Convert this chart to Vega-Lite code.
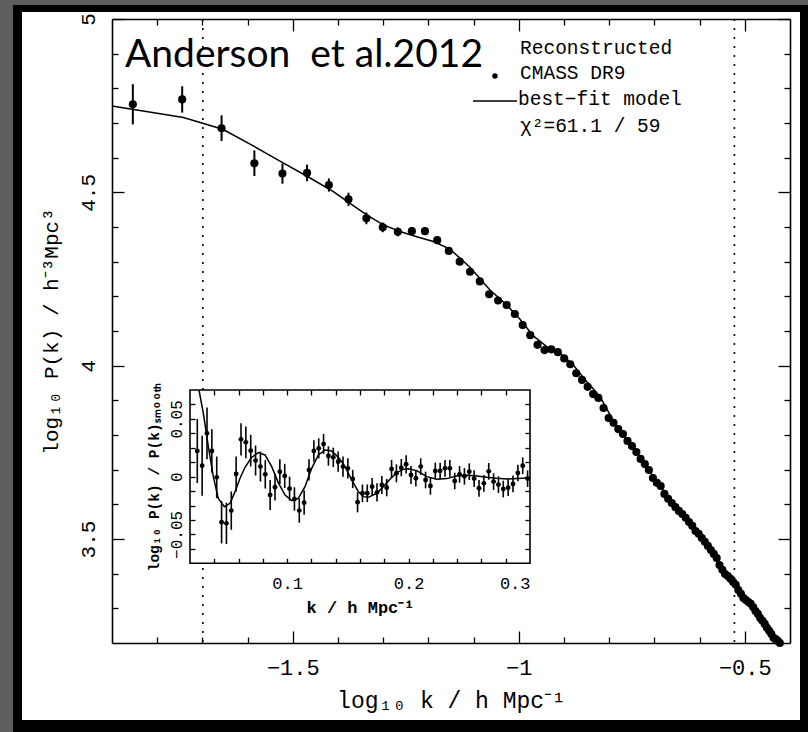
{
  "$schema": "https://vega.github.io/schema/vega-lite/v6.json",
  "width": 678,
  "height": 624,
  "autosize": {"type": "none"},
  "padding": {"left": 112, "top": 19, "right": 18, "bottom": 89},
  "background": "#5f5f5f",
  "datasets": {
    "one": [{"id": 1}],
    "vlines": [{"lk": -1.699}, {"lk": -0.523}],
    "main": [
      {"lk": -1.8539, "lp": 4.754}, {"lk": -1.7447, "lp": 4.768}, {"lk": -1.6576, "lp": 4.685}, {"lk": -1.585, "lp": 4.584},
      {"lk": -1.5229, "lp": 4.554}, {"lk": -1.4685, "lp": 4.556}, {"lk": -1.4202, "lp": 4.521}, {"lk": -1.3768, "lp": 4.48},
      {"lk": -1.3372, "lp": 4.425}, {"lk": -1.301, "lp": 4.399}, {"lk": -1.2676, "lp": 4.386}, {"lk": -1.2366, "lp": 4.388},
      {"lk": -1.2076, "lp": 4.388}, {"lk": -1.1805, "lp": 4.362}, {"lk": -1.1549, "lp": 4.331}, {"lk": -1.1308, "lp": 4.3},
      {"lk": -1.1079, "lp": 4.271}, {"lk": -1.0862, "lp": 4.243}, {"lk": -1.0655, "lp": 4.206}, {"lk": -1.0458, "lp": 4.188},
      {"lk": -1.0269, "lp": 4.175}, {"lk": -1.0088, "lp": 4.149}, {"lk": -0.9914, "lp": 4.117}, {"lk": -0.9747, "lp": 4.088},
      {"lk": -0.9586, "lp": 4.06}, {"lk": -0.9431, "lp": 4.045}, {"lk": -0.9281, "lp": 4.047}, {"lk": -0.9136, "lp": 4.039},
      {"lk": -0.8996, "lp": 4.021}, {"lk": -0.8861, "lp": 4.004}, {"lk": -0.8729, "lp": 3.978}, {"lk": -0.8601, "lp": 3.959},
      {"lk": -0.8477, "lp": 3.939}, {"lk": -0.8356, "lp": 3.918}, {"lk": -0.8239, "lp": 3.907}, {"lk": -0.8125, "lp": 3.878},
      {"lk": -0.8013, "lp": 3.849}, {"lk": -0.7905, "lp": 3.835}, {"lk": -0.7799, "lp": 3.817}, {"lk": -0.7696, "lp": 3.803},
      {"lk": -0.7595, "lp": 3.783}, {"lk": -0.7496, "lp": 3.768}, {"lk": -0.7399, "lp": 3.751}, {"lk": -0.7305, "lp": 3.731},
      {"lk": -0.7212, "lp": 3.716}, {"lk": -0.7122, "lp": 3.699}, {"lk": -0.7033, "lp": 3.676}, {"lk": -0.6946, "lp": 3.662},
      {"lk": -0.6861, "lp": 3.653}, {"lk": -0.6778, "lp": 3.63}, {"lk": -0.6696, "lp": 3.616}, {"lk": -0.6615, "lp": 3.604},
      {"lk": -0.6536, "lp": 3.592}, {"lk": -0.6459, "lp": 3.581}, {"lk": -0.6383, "lp": 3.572}, {"lk": -0.6308, "lp": 3.561},
      {"lk": -0.6234, "lp": 3.549}, {"lk": -0.6162, "lp": 3.538}, {"lk": -0.6091, "lp": 3.523}, {"lk": -0.6021, "lp": 3.515},
      {"lk": -0.5952, "lp": 3.503}, {"lk": -0.5884, "lp": 3.492}, {"lk": -0.5817, "lp": 3.48}, {"lk": -0.5751, "lp": 3.468},
      {"lk": -0.5686, "lp": 3.457}, {"lk": -0.5622, "lp": 3.445}, {"lk": -0.556, "lp": 3.425}, {"lk": -0.5498, "lp": 3.411},
      {"lk": -0.5436, "lp": 3.399}, {"lk": -0.5376, "lp": 3.393}, {"lk": -0.5317, "lp": 3.385}, {"lk": -0.5258, "lp": 3.376},
      {"lk": -0.52, "lp": 3.368}, {"lk": -0.5143, "lp": 3.353}, {"lk": -0.5086, "lp": 3.342}, {"lk": -0.5031, "lp": 3.33},
      {"lk": -0.4976, "lp": 3.324}, {"lk": -0.4921, "lp": 3.318}, {"lk": -0.4868, "lp": 3.313}, {"lk": -0.4815, "lp": 3.304},
      {"lk": -0.4763, "lp": 3.292}, {"lk": -0.4711, "lp": 3.284}, {"lk": -0.466, "lp": 3.272}, {"lk": -0.4609, "lp": 3.264},
      {"lk": -0.4559, "lp": 3.255}, {"lk": -0.451, "lp": 3.244}, {"lk": -0.4461, "lp": 3.235}, {"lk": -0.4413, "lp": 3.226},
      {"lk": -0.4365, "lp": 3.215}, {"lk": -0.4318, "lp": 3.211}, {"lk": -0.4271, "lp": 3.206}, {"lk": -0.4225, "lp": 3.2}
    ],
    "err": [
      {"lk": -1.8539, "lo": 4.696, "hi": 4.812}, {"lk": -1.7447, "lo": 4.73, "hi": 4.806}, {"lk": -1.6576, "lo": 4.648, "hi": 4.722},
      {"lk": -1.585, "lo": 4.547, "hi": 4.621}, {"lk": -1.5229, "lo": 4.525, "hi": 4.583}, {"lk": -1.4685, "lo": 4.532, "hi": 4.58},
      {"lk": -1.4202, "lo": 4.502, "hi": 4.54}, {"lk": -1.3768, "lo": 4.461, "hi": 4.499}, {"lk": -1.3372, "lo": 4.408, "hi": 4.442},
      {"lk": -1.301, "lo": 4.385, "hi": 4.413}, {"lk": -1.2676, "lo": 4.373, "hi": 4.399}, {"lk": -1.2366, "lo": 4.376, "hi": 4.4},
      {"lk": -1.2076, "lo": 4.377, "hi": 4.399}, {"lk": -1.1805, "lo": 4.352, "hi": 4.372}
    ],
    "model": [
      {"lk": -1.9, "lp": 4.749}, {"lk": -1.742, "lp": 4.716}, {"lk": -1.655, "lp": 4.682}, {"lk": -1.5874, "lp": 4.634},
      {"lk": -1.5206, "lp": 4.584}, {"lk": -1.4664, "lp": 4.545}, {"lk": -1.4102, "lp": 4.502}, {"lk": -1.3734, "lp": 4.468},
      {"lk": -1.3365, "lp": 4.435}, {"lk": -1.2996, "lp": 4.406}, {"lk": -1.2628, "lp": 4.387}, {"lk": -1.2259, "lp": 4.372},
      {"lk": -1.1889, "lp": 4.358}, {"lk": -1.1522, "lp": 4.336}, {"lk": -1.108, "lp": 4.284}, {"lk": -1.0637, "lp": 4.218},
      {"lk": -1.0268, "lp": 4.175}, {"lk": -0.9973, "lp": 4.134}, {"lk": -0.9679, "lp": 4.086}, {"lk": -0.9382, "lp": 4.055},
      {"lk": -0.9088, "lp": 4.036}, {"lk": -0.8794, "lp": 4.002}, {"lk": -0.8498, "lp": 3.954}, {"lk": -0.8204, "lp": 3.911},
      {"lk": -0.7872, "lp": 3.832}, {"lk": -0.7429, "lp": 3.755}, {"lk": -0.6987, "lp": 3.674}, {"lk": -0.6544, "lp": 3.594},
      {"lk": -0.6102, "lp": 3.524}, {"lk": -0.5659, "lp": 3.452}, {"lk": -0.5217, "lp": 3.372}, {"lk": -0.4774, "lp": 3.29},
      {"lk": -0.4332, "lp": 3.21}, {"lk": -0.42, "lp": 3.195}
    ],
    "inset": [
      {"k": 0.026, "v": 0.0222, "lo": -0.0055, "hi": 0.0499}, {"k": 0.030, "v": 0.0095, "lo": -0.0165, "hi": 0.0355},
      {"k": 0.034, "v": 0.0375, "lo": 0.0151, "hi": 0.0599}, {"k": 0.038, "v": 0.0222, "lo": 0.0034, "hi": 0.041},
      {"k": 0.042, "v": -0.0006, "lo": -0.0186, "hi": 0.0174}, {"k": 0.046, "v": -0.0395, "lo": -0.0578, "hi": -0.0212},
      {"k": 0.050, "v": -0.0404, "lo": -0.0583, "hi": -0.0225}, {"k": 0.054, "v": -0.0294, "lo": -0.046, "hi": -0.0128},
      {"k": 0.058, "v": 0.0023, "lo": -0.0129, "hi": 0.0175}, {"k": 0.062, "v": 0.0323, "lo": 0.0184, "hi": 0.0462},
      {"k": 0.066, "v": 0.0297, "lo": 0.016, "hi": 0.0434}, {"k": 0.070, "v": 0.0225, "lo": 0.0088, "hi": 0.0362},
      {"k": 0.074, "v": 0.0139, "lo": 0.0009, "hi": 0.0269}, {"k": 0.078, "v": 0.0087, "lo": -0.0043, "hi": 0.0217},
      {"k": 0.082, "v": 0.002, "lo": -0.0103, "hi": 0.0143}, {"k": 0.086, "v": -0.0159, "lo": -0.0289, "hi": -0.0029},
      {"k": 0.090, "v": -0.0092, "lo": -0.0207, "hi": 0.0023}, {"k": 0.094, "v": 0.0043, "lo": -0.0064, "hi": 0.015},
      {"k": 0.098, "v": 0.0006, "lo": -0.0099, "hi": 0.0111}, {"k": 0.102, "v": -0.0104, "lo": -0.0208, "hi": 0.0},
      {"k": 0.106, "v": -0.0193, "lo": -0.0294, "hi": -0.0092}, {"k": 0.110, "v": -0.0294, "lo": -0.0399, "hi": -0.0189},
      {"k": 0.114, "v": -0.0225, "lo": -0.033, "hi": -0.012}, {"k": 0.118, "v": 0.0058, "lo": -0.0034, "hi": 0.015},
      {"k": 0.122, "v": 0.0222, "lo": 0.0128, "hi": 0.0316}, {"k": 0.126, "v": 0.0245, "lo": 0.0158, "hi": 0.0332},
      {"k": 0.130, "v": 0.0283, "lo": 0.0196, "hi": 0.037}, {"k": 0.134, "v": 0.0179, "lo": 0.0095, "hi": 0.0263},
      {"k": 0.138, "v": 0.0167, "lo": 0.0083, "hi": 0.0251}, {"k": 0.142, "v": 0.013, "lo": 0.0043, "hi": 0.0217},
      {"k": 0.146, "v": 0.0087, "lo": 0.0, "hi": 0.0174}, {"k": 0.150, "v": 0.0072, "lo": -0.0015, "hi": 0.0159},
      {"k": 0.154, "v": -0.002, "lo": -0.0099, "hi": 0.0059}, {"k": 0.158, "v": -0.0222, "lo": -0.0309, "hi": -0.0135},
      {"k": 0.162, "v": -0.0144, "lo": -0.022, "hi": -0.0068}, {"k": 0.166, "v": -0.0144, "lo": -0.022, "hi": -0.0068},
      {"k": 0.170, "v": -0.0087, "lo": -0.0163, "hi": -0.0011}, {"k": 0.174, "v": -0.0136, "lo": -0.0215, "hi": -0.0057},
      {"k": 0.178, "v": -0.0072, "lo": -0.015, "hi": 0.0006}, {"k": 0.182, "v": -0.0095, "lo": -0.017, "hi": -0.002},
      {"k": 0.186, "v": 0.0066, "lo": -0.0013, "hi": 0.0145}, {"k": 0.190, "v": 0.0029, "lo": -0.0049, "hi": 0.0107},
      {"k": 0.194, "v": 0.0078, "lo": 0.0003, "hi": 0.0153}, {"k": 0.198, "v": 0.0107, "lo": 0.0028, "hi": 0.0186},
      {"k": 0.202, "v": 0.0014, "lo": -0.0064, "hi": 0.0092}, {"k": 0.206, "v": -0.0014, "lo": -0.0086, "hi": 0.0058},
      {"k": 0.210, "v": 0.0087, "lo": 0.0015, "hi": 0.0159}, {"k": 0.214, "v": -0.0029, "lo": -0.0101, "hi": 0.0043},
      {"k": 0.218, "v": -0.0081, "lo": -0.0156, "hi": -0.0006}, {"k": 0.222, "v": 0.0049, "lo": -0.0023, "hi": 0.0121},
      {"k": 0.226, "v": 0.0049, "lo": -0.0023, "hi": 0.0121}, {"k": 0.230, "v": 0.0072, "lo": 0.0, "hi": 0.0144},
      {"k": 0.234, "v": 0.0072, "lo": 0.0, "hi": 0.0144}, {"k": 0.238, "v": -0.0038, "lo": -0.011, "hi": 0.0034},
      {"k": 0.242, "v": 0.002, "lo": -0.0052, "hi": 0.0092}, {"k": 0.246, "v": 0.0003, "lo": -0.0069, "hi": 0.0075},
      {"k": 0.250, "v": 0.0043, "lo": -0.0029, "hi": 0.0115}, {"k": 0.254, "v": -0.0017, "lo": -0.0089, "hi": 0.0055},
      {"k": 0.258, "v": -0.0101, "lo": -0.0173, "hi": -0.0029}, {"k": 0.262, "v": -0.0058, "lo": -0.013, "hi": 0.0014},
      {"k": 0.266, "v": 0.0046, "lo": -0.0026, "hi": 0.0118}, {"k": 0.270, "v": -0.0043, "lo": -0.0115, "hi": 0.0029},
      {"k": 0.274, "v": -0.0069, "lo": -0.0141, "hi": 0.0003}, {"k": 0.278, "v": -0.0107, "lo": -0.0179, "hi": -0.0035},
      {"k": 0.282, "v": -0.0095, "lo": -0.0167, "hi": -0.0023}, {"k": 0.286, "v": -0.0063, "lo": -0.0135, "hi": 0.0009},
      {"k": 0.290, "v": 0.0032, "lo": -0.004, "hi": 0.0104}, {"k": 0.294, "v": 0.0095, "lo": 0.0023, "hi": 0.0167},
      {"k": 0.298, "v": -0.0017, "lo": -0.0089, "hi": 0.0055}
    ],
    "imodel": [
      {"k": 0.0274, "v": 0.075}, {"k": 0.031, "v": 0.0548}, {"k": 0.0351, "v": 0.026}, {"k": 0.0392, "v": 0.0},
      {"k": 0.0433, "v": -0.0188}, {"k": 0.0483, "v": -0.026}, {"k": 0.053, "v": -0.0231}, {"k": 0.0571, "v": -0.013},
      {"k": 0.0612, "v": -0.0014}, {"k": 0.0653, "v": 0.0081}, {"k": 0.0708, "v": 0.0167}, {"k": 0.0763, "v": 0.0208},
      {"k": 0.0818, "v": 0.0188}, {"k": 0.0873, "v": 0.0087}, {"k": 0.0927, "v": -0.0052}, {"k": 0.0983, "v": -0.0159},
      {"k": 0.1038, "v": -0.0208}, {"k": 0.1092, "v": -0.0188}, {"k": 0.1147, "v": -0.0087}, {"k": 0.1202, "v": 0.0072},
      {"k": 0.1257, "v": 0.0188}, {"k": 0.1312, "v": 0.0231}, {"k": 0.1367, "v": 0.0222}, {"k": 0.1422, "v": 0.0167},
      {"k": 0.1477, "v": 0.0087}, {"k": 0.1532, "v": -0.0029}, {"k": 0.1587, "v": -0.013}, {"k": 0.1628, "v": -0.0173},
      {"k": 0.1669, "v": -0.0179}, {"k": 0.1738, "v": -0.0144}, {"k": 0.1792, "v": -0.0087}, {"k": 0.1847, "v": -0.0023},
      {"k": 0.1902, "v": 0.0035}, {"k": 0.1957, "v": 0.0063}, {"k": 0.1998, "v": 0.0069}, {"k": 0.2067, "v": 0.0052},
      {"k": 0.215, "v": 0.0}, {"k": 0.2232, "v": -0.0023}, {"k": 0.2314, "v": -0.0017}, {"k": 0.2397, "v": 0.0006},
      {"k": 0.2479, "v": 0.0012}, {"k": 0.2562, "v": 0.0006}, {"k": 0.2644, "v": -0.0006}, {"k": 0.2726, "v": -0.0014},
      {"k": 0.2809, "v": -0.002}, {"k": 0.2891, "v": -0.0017}, {"k": 0.2993, "v": -0.0012}
    ]
  },
  "layer": [
    {
      "layer": [
        {
          "data": {"name": "one"},
          "mark": {"type": "rect", "color": "black"},
          "encoding": {
            "x": {"datum": -2.119, "type": "quantitative", "axis": null, "scale": {"domain": [-1.9, -0.4], "nice": false, "zero": false}},
            "x2": {"datum": -0.36},
            "y": {"datum": 5.0404, "type": "quantitative", "axis": null, "scale": {"domain": [3.2, 5.0], "nice": false, "zero": false}},
            "y2": {"datum": 2.9435}
          }
        },
        {
          "data": {"name": "one"},
          "mark": {"type": "rect", "color": "white"},
          "encoding": {
            "x": {"datum": -2.0991, "type": "quantitative", "axis": null},
            "x2": {"datum": -0.3779},
            "y": {"datum": 5.0202, "type": "quantitative", "axis": null},
            "y2": {"datum": 2.978}
          }
        },
        {
          "data": {"name": "vlines"},
          "mark": {"type": "rule", "strokeDash": [2, 7], "strokeWidth": 1.6, "color": "black"},
          "encoding": {
            "x": {"field": "lk", "type": "quantitative",
              "axis": {"orient": "bottom", "zindex": 1, "values": [-1.5, -1, -0.5], "format": "~g", "ticks": false, "domain": true, "domainWidth": 1.6,
                "labels": true, "labelFontSize": 22, "labelPadding": 14,
                "title": "log₁₀ k / h Mpc⁻¹", "titleFontSize": 23, "titlePadding": 11}}
          }
        },
        {
          "data": {"name": "model"},
          "mark": {"type": "line", "color": "black", "strokeWidth": 1.5},
          "encoding": {
            "x": {"field": "lk", "type": "quantitative", "axis": {"orient": "bottom", "zindex": 1, "values": [-1.5, -1, -0.5], "tickSize": -12, "title": null}},
            "y": {"field": "lp", "type": "quantitative",
              "axis": {"orient": "left", "zindex": 1, "values": [3.5, 4, 4.5, 5], "format": "~g", "ticks": false, "domain": true, "domainWidth": 1.6,
                "labels": true, "labelAngle": -90, "labelAlign": "center", "labelBaseline": "bottom", "labelFontSize": 21, "labelPadding": 14,
                "title": "log₁₀ P(k) / h⁻³Mpc³", "titleFontSize": 21, "titlePadding": 16, "minExtent": 0}}
          }
        },
        {
          "data": {"name": "err"},
          "mark": {"type": "rule", "color": "black", "strokeWidth": 2},
          "encoding": {
            "x": {"field": "lk", "type": "quantitative", "axis": {"orient": "bottom", "zindex": 1, "values": [-1.8, -1.7, -1.6, -1.4, -1.3, -1.2, -1.1, -0.9, -0.8, -0.7, -0.6], "tickSize": -6, "title": null}},
            "y": {"field": "lo", "type": "quantitative", "axis": {"orient": "left", "zindex": 1, "values": [3.5, 4, 4.5, 5], "tickSize": -12, "title": null}},
            "y2": {"field": "hi"}
          }
        },
        {
          "data": {"name": "main"},
          "mark": {"type": "point", "filled": true, "color": "black", "opacity": 1, "size": 66},
          "encoding": {
            "x": {"field": "lk", "type": "quantitative", "axis": {"orient": "top", "zindex": 1, "values": [-1.5, -1, -0.5], "tickSize": -12, "domain": true, "domainWidth": 1.6, "title": null}},
            "y": {"field": "lp", "type": "quantitative", "axis": {"orient": "left", "zindex": 1, "values": [3.3, 3.4, 3.6, 3.7, 3.8, 3.9, 4.1, 4.2, 4.3, 4.4, 4.6, 4.7, 4.8, 4.9], "tickSize": -6, "title": null}}
          }
        },
        {
          "data": {"name": "model"},
          "mark": {"type": "point", "opacity": 0, "size": 1},
          "encoding": {
            "x": {"field": "lk", "type": "quantitative", "axis": {"orient": "top", "zindex": 1, "values": [-1.8, -1.7, -1.6, -1.4, -1.3, -1.2, -1.1, -0.9, -0.8, -0.7, -0.6], "tickSize": -6, "title": null}},
            "y": {"field": "lp", "type": "quantitative", "axis": {"orient": "right", "zindex": 1, "values": [3.5, 4, 4.5, 5], "tickSize": -12, "domain": true, "domainWidth": 1.6, "title": null}}
          }
        },
        {
          "data": {"name": "model"},
          "mark": {"type": "point", "opacity": 0, "size": 1},
          "encoding": {
            "x": {"field": "lk", "type": "quantitative", "axis": null},
            "y": {"field": "lp", "type": "quantitative", "axis": {"orient": "right", "zindex": 1, "values": [3.3, 3.4, 3.6, 3.7, 3.8, 3.9, 4.1, 4.2, 4.3, 4.4, 4.6, 4.7, 4.8, 4.9], "tickSize": -6, "title": null}}
          }
        },
        {
          "data": {"name": "one"},
          "mark": {"type": "text", "text": "Anderson\u00a0\u00a0et al.2012", "font": "Lato", "fontSize": 39, "align": "left", "baseline": "alphabetic", "color": "black"},
          "encoding": {
            "x": {"datum": -1.8712, "type": "quantitative", "axis": null},
            "y": {"datum": 4.8616, "type": "quantitative", "axis": null}
          }
        },
        {
          "data": {"name": "one"},
          "mark": {"type": "text", "text": "Reconstructed", "font": "Liberation Mono", "fontSize": 19.5, "align": "left", "baseline": "alphabetic", "color": "black"},
          "encoding": {
            "x": {"datum": -0.9973, "type": "quantitative", "axis": null},
            "y": {"datum": 4.899, "type": "quantitative", "axis": null}
          }
        },
        {
          "data": {"name": "one"},
          "mark": {"type": "text", "text": "CMASS DR9", "font": "Liberation Mono", "fontSize": 19.5, "align": "left", "baseline": "alphabetic", "color": "black"},
          "encoding": {
            "x": {"datum": -0.9973, "type": "quantitative", "axis": null},
            "y": {"datum": 4.827, "type": "quantitative", "axis": null}
          }
        },
        {
          "data": {"name": "one"},
          "mark": {"type": "text", "text": "best−fit model", "font": "Liberation Mono", "fontSize": 19.5, "align": "left", "baseline": "alphabetic", "color": "black"},
          "encoding": {
            "x": {"datum": -1.0018, "type": "quantitative", "axis": null},
            "y": {"datum": 4.752, "type": "quantitative", "axis": null}
          }
        },
        {
          "data": {"name": "one"},
          "mark": {"type": "text", "text": "χ²=61.1 / 59", "font": "Liberation Mono", "fontSize": 19.5, "align": "left", "baseline": "alphabetic", "color": "black"},
          "encoding": {
            "x": {"datum": -0.9973, "type": "quantitative", "axis": null},
            "y": {"datum": 4.674, "type": "quantitative", "axis": null}
          }
        },
        {
          "data": {"name": "one"},
          "mark": {"type": "point", "filled": true, "color": "black", "opacity": 1, "size": 30},
          "encoding": {
            "x": {"datum": -1.0527, "type": "quantitative", "axis": null},
            "y": {"datum": 4.8356, "type": "quantitative", "axis": null}
          }
        },
        {
          "data": {"name": "one"},
          "mark": {"type": "rule", "color": "black", "strokeWidth": 1.5},
          "encoding": {
            "x": {"datum": -1.1013, "type": "quantitative", "axis": null},
            "x2": {"datum": -1.004},
            "y": {"datum": 4.7635, "type": "quantitative", "axis": null}
          }
        }
      ],
      "resolve": {"axis": {"x": "independent", "y": "independent"}}
    },
    {
      "layer": [
        {
          "data": {"name": "one"},
          "mark": {"type": "rect", "fill": "white", "stroke": "black", "strokeWidth": 1.6},
          "encoding": {
            "x": {"datum": 0.02, "type": "quantitative", "axis": null, "scale": {"domain": [0.02, 0.3], "range": [78, 418], "nice": false, "zero": false}},
            "x2": {"datum": 0.3},
            "y": {"datum": -0.075, "type": "quantitative", "axis": null, "scale": {"domain": [-0.075, 0.075], "range": [544.3, 371], "nice": false, "zero": false}},
            "y2": {"datum": 0.075}
          }
        },
        {
          "data": {"name": "imodel"},
          "mark": {"type": "line", "color": "black", "strokeWidth": 1.5},
          "encoding": {
            "x": {"field": "k", "type": "quantitative",
              "axis": {"orient": "bottom", "zindex": 1, "offset": -79.7, "values": [0.1, 0.2, 0.3], "format": "~g", "ticks": false, "domain": false,
                "labels": true, "labelFontSize": 17, "labelPadding": 12,
                "title": "k / h Mpc⁻¹", "titleFontSize": 17, "titleFontWeight": "bold", "titlePadding": 8}},
            "y": {"field": "v", "type": "quantitative",
              "axis": {"orient": "left", "zindex": 1, "offset": -78, "values": [-0.05, 0, 0.05], "format": "~g", "ticks": false, "domain": false,
                "labels": true, "labelAngle": -90, "labelAlign": "center", "labelBaseline": "bottom", "labelFontSize": 16, "labelPadding": 6,
                "title": "log₁₀ P(k) / P(k)ₛₘₒₒₜₕ", "titleFontSize": 14.5, "titleFontWeight": "bold", "titlePadding": 7, "minExtent": 0}}
          }
        },
        {
          "data": {"name": "inset"},
          "mark": {"type": "rule", "color": "black", "strokeWidth": 1.6},
          "encoding": {
            "x": {"field": "k", "type": "quantitative", "axis": {"orient": "bottom", "zindex": 1, "offset": -79.7, "values": [0.04, 0.06, 0.08, 0.1, 0.12, 0.14, 0.16, 0.18, 0.2, 0.22, 0.24, 0.26, 0.28], "tickSize": -5, "title": null}},
            "y": {"field": "lo", "type": "quantitative", "axis": {"orient": "left", "zindex": 1, "offset": -78, "values": [-0.0625, -0.05, -0.0375, -0.025, -0.0125, 0, 0.0125, 0.025, 0.0375, 0.05, 0.0625], "tickSize": -5, "title": null}},
            "y2": {"field": "hi"}
          }
        },
        {
          "data": {"name": "inset"},
          "mark": {"type": "point", "filled": true, "color": "black", "opacity": 1, "size": 24},
          "encoding": {
            "x": {"field": "k", "type": "quantitative", "axis": {"orient": "top", "zindex": 1, "offset": -371, "values": [0.04, 0.06, 0.08, 0.1, 0.12, 0.14, 0.16, 0.18, 0.2, 0.22, 0.24, 0.26, 0.28], "tickSize": -5, "title": null}},
            "y": {"field": "v", "type": "quantitative", "axis": {"orient": "right", "zindex": 1, "offset": -260, "values": [-0.0625, -0.05, -0.0375, -0.025, -0.0125, 0, 0.0125, 0.025, 0.0375, 0.05, 0.0625], "tickSize": -5, "title": null}}
          }
        }
      ],
      "resolve": {"axis": {"x": "independent", "y": "independent"}}
    }
  ],
  "resolve": {"scale": {"x": "independent", "y": "independent"}, "axis": {"x": "independent", "y": "independent"}},
  "config": {
    "view": {"stroke": null},
    "axis": {
      "grid": false, "domain": false, "labels": false,
      "domainColor": "black", "tickColor": "black", "tickWidth": 1.3,
      "labelColor": "black", "titleColor": "black",
      "labelFont": "Liberation Mono", "titleFont": "Liberation Mono", "titleFontWeight": "normal"
    }
  }
}
